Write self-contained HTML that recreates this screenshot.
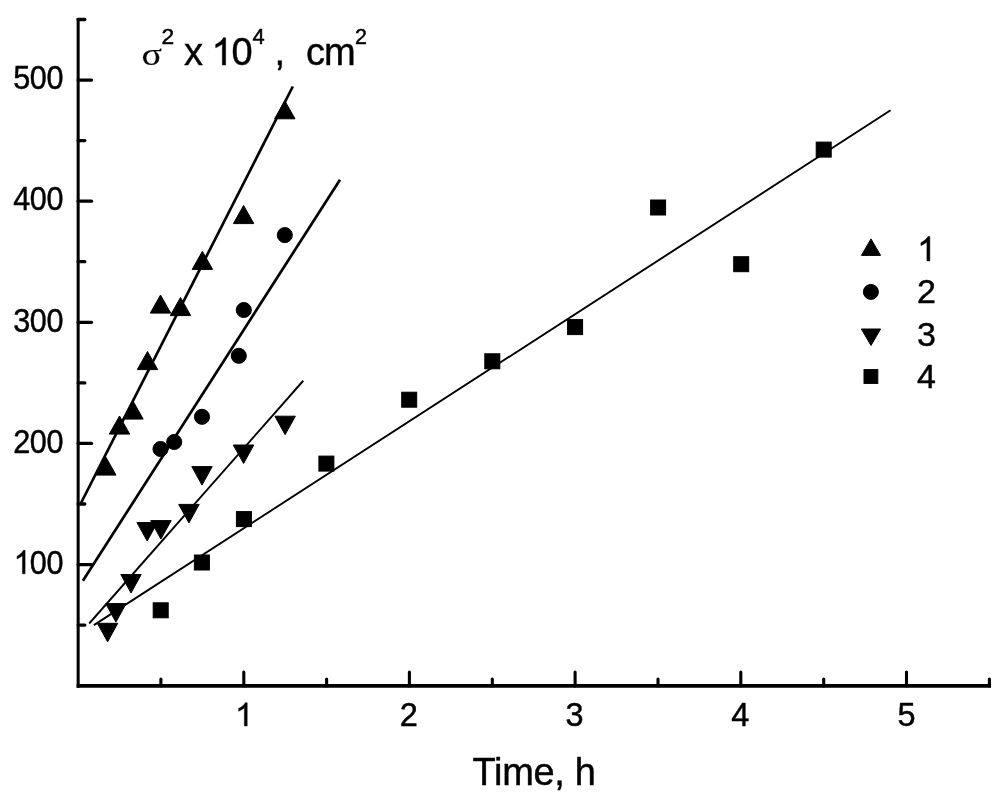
<!DOCTYPE html><html><head><meta charset="utf-8"><style>html,body{margin:0;padding:0;background:#fff}body{width:1000px;height:801px;position:relative;overflow:hidden;font-family:"Liberation Sans",sans-serif}</style></head><body><svg width="1000" height="801" viewBox="0 0 1000 801" style="position:absolute;left:0;top:0;will-change:transform;transform:translateZ(0)">
<path d="M78.15 17.9 V687.75" stroke="#000" stroke-width="3.05" fill="none"/>
<path d="M76.65 685.9 H991" stroke="#000" stroke-width="3.7" fill="none"/>
<g stroke="#000" stroke-width="3.3" fill="none" stroke-linecap="round">
<path d="M78.15 625.1 H84.8"/>
<path d="M78.15 564.6 H91.5"/>
<path d="M78.15 504.0 H84.8"/>
<path d="M78.15 443.4 H91.5"/>
<path d="M78.15 382.9 H84.8"/>
<path d="M78.15 322.3 H91.5"/>
<path d="M78.15 261.7 H84.8"/>
<path d="M78.15 201.2 H91.5"/>
<path d="M78.15 140.6 H84.8"/>
<path d="M78.15 80.1 H91.5"/>
<path d="M78.15 19.5 H84.8"/>
</g>
<g stroke="#000" stroke-width="3.1" fill="none" stroke-linecap="round">
<path d="M160.9 685.9 V679"/>
<path d="M243.8 685.9 V672"/>
<path d="M326.6 685.9 V679"/>
<path d="M409.4 685.9 V672"/>
<path d="M492.3 685.9 V679"/>
<path d="M575.1 685.9 V672"/>
<path d="M658.0 685.9 V679"/>
<path d="M740.8 685.9 V672"/>
<path d="M823.7 685.9 V679"/>
<path d="M906.5 685.9 V672"/>
<path d="M989.4 685.9 V679"/>
</g>
<text transform="translate(63.0 573.8) scale(0.94 1.0)" font-family="Liberation Sans, sans-serif" font-size="32.6" text-anchor="end" letter-spacing="-0.5" fill="#000" stroke="#000" stroke-width="0.45" stroke-linejoin="round">00</text>
<path transform="translate(13.7 573.8) scale(0.014963 -0.015918)" d="M763 0H583V1147Q518 1085 412.5 1023Q307 961 223 930V1104Q374 1175 487 1276Q600 1377 647 1472H763Z" fill="#000" stroke="#000" stroke-width="28.3" stroke-linejoin="round"/>
<text transform="translate(63.0 452.6) scale(0.94 1.0)" font-family="Liberation Sans, sans-serif" font-size="32.6" text-anchor="end" letter-spacing="-0.5" fill="#000" stroke="#000" stroke-width="0.45" stroke-linejoin="round">200</text>
<text transform="translate(63.0 331.5) scale(0.94 1.0)" font-family="Liberation Sans, sans-serif" font-size="32.6" text-anchor="end" letter-spacing="-0.5" fill="#000" stroke="#000" stroke-width="0.45" stroke-linejoin="round">300</text>
<text transform="translate(63.0 210.4) scale(0.94 1.0)" font-family="Liberation Sans, sans-serif" font-size="32.6" text-anchor="end" letter-spacing="-0.5" fill="#000" stroke="#000" stroke-width="0.45" stroke-linejoin="round">400</text>
<text transform="translate(63.0 89.3) scale(0.94 1.0)" font-family="Liberation Sans, sans-serif" font-size="32.6" text-anchor="end" letter-spacing="-0.5" fill="#000" stroke="#000" stroke-width="0.45" stroke-linejoin="round">500</text>
<path transform="translate(235.1 726) scale(0.015869 -0.015869)" d="M763 0H583V1147Q518 1085 412.5 1023Q307 961 223 930V1104Q374 1175 487 1276Q600 1377 647 1472H763Z" fill="#000" stroke="#000" stroke-width="28.4" stroke-linejoin="round"/>
<text transform="translate(408.9 726) scale(1.0 1.0)" font-family="Liberation Sans, sans-serif" font-size="32.5" text-anchor="middle" letter-spacing="0" fill="#000" stroke="#000" stroke-width="0.45" stroke-linejoin="round">2</text>
<text transform="translate(574.6 726) scale(1.0 1.0)" font-family="Liberation Sans, sans-serif" font-size="32.5" text-anchor="middle" letter-spacing="0" fill="#000" stroke="#000" stroke-width="0.45" stroke-linejoin="round">3</text>
<text transform="translate(740.3 726) scale(1.0 1.0)" font-family="Liberation Sans, sans-serif" font-size="32.5" text-anchor="middle" letter-spacing="0" fill="#000" stroke="#000" stroke-width="0.45" stroke-linejoin="round">4</text>
<text transform="translate(906.5 726) scale(1.0 1.0)" font-family="Liberation Sans, sans-serif" font-size="32.5" text-anchor="middle" letter-spacing="0" fill="#000" stroke="#000" stroke-width="0.45" stroke-linejoin="round">5</text>
<line x1="80.5" y1="504" x2="292.8" y2="86.5" stroke="#000" stroke-width="2.7"/>
<line x1="82.9" y1="580.7" x2="340" y2="179.7" stroke="#000" stroke-width="2.7"/>
<line x1="89.2" y1="623.5" x2="303.25" y2="380.75" stroke="#000" stroke-width="1.9"/>
<line x1="93.9" y1="625.1" x2="890.6" y2="110.3" stroke="#000" stroke-width="1.9"/>
<g fill="#000" stroke="#000" stroke-width="1" stroke-linejoin="round">
<polygon points="160.5,295.0 170.7,313.1 150.3,313.1"/>
<polygon points="180.5,297.5 190.7,315.6 170.3,315.6"/>
<polygon points="147.5,351.5 157.7,369.6 137.3,369.6"/>
<polygon points="133.0,401.0 143.2,419.1 122.8,419.1"/>
<polygon points="119.5,416.0 129.7,434.1 109.3,434.1"/>
<polygon points="105.8,457.0 116.0,475.1 95.5,475.1"/>
<polygon points="202.4,251.3 212.6,269.4 192.2,269.4"/>
<polygon points="243.6,205.5 253.8,223.6 233.4,223.6"/>
<polygon points="284.8,100.7 295.0,118.8 274.6,118.8"/>
<circle cx="243.8" cy="310.0" r="7.550000000000001"/>
<circle cx="238.8" cy="355.8" r="7.550000000000001"/>
<circle cx="202.0" cy="416.8" r="7.550000000000001"/>
<circle cx="174.2" cy="442.0" r="7.550000000000001"/>
<circle cx="160.5" cy="449.0" r="7.550000000000001"/>
<circle cx="284.8" cy="235.1" r="7.550000000000001"/>
<polygon points="107.6,641.8 117.8,623.3 97.3,623.3"/>
<polygon points="115.9,622.1 126.2,603.6 105.7,603.6"/>
<polygon points="131.0,593.0 141.2,574.5 120.8,574.5"/>
<polygon points="147.2,541.0 157.4,522.5 136.9,522.5"/>
<polygon points="160.9,539.1 171.2,520.6 150.7,520.6"/>
<polygon points="188.9,522.9 199.2,504.4 178.7,504.4"/>
<polygon points="202.0,485.1 212.2,466.6 191.8,466.6"/>
<polygon points="243.6,463.5 253.8,445.0 233.3,445.0"/>
<polygon points="285.1,434.7 295.4,416.2 274.9,416.2"/>
<rect x="153.2" y="602.8" width="15.0" height="15.0" stroke-linejoin="miter"/>
<rect x="194.4" y="555.0" width="15.0" height="15.0" stroke-linejoin="miter"/>
<rect x="236.4" y="511.6" width="15.0" height="15.0" stroke-linejoin="miter"/>
<rect x="318.9" y="456.1" width="15.0" height="15.0" stroke-linejoin="miter"/>
<rect x="401.7" y="392.2" width="15.0" height="15.0" stroke-linejoin="miter"/>
<rect x="484.8" y="353.8" width="15.0" height="15.0" stroke-linejoin="miter"/>
<rect x="567.6" y="319.6" width="15.0" height="15.0" stroke-linejoin="miter"/>
<rect x="650.6" y="200.0" width="15.0" height="15.0" stroke-linejoin="miter"/>
<rect x="733.7" y="256.7" width="15.0" height="15.0" stroke-linejoin="miter"/>
<rect x="816.2" y="142.1" width="15.0" height="15.0" stroke-linejoin="miter"/>
<polygon points="871.0,238.9 880.6,255.4 861.4,255.4"/>
<circle cx="870.9" cy="291.9" r="7.5"/>
<polygon points="871.0,345.5 880.6,329.0 861.4,329.0"/>
<rect x="864.0" y="369.6" width="13.8" height="13.8" stroke-linejoin="miter"/>
</g>
<path transform="translate(917.2 261) scale(0.016602 -0.016602)" d="M763 0H583V1147Q518 1085 412.5 1023Q307 961 223 930V1104Q374 1175 487 1276Q600 1377 647 1472H763Z" fill="#000" stroke="#000" stroke-width="27.1" stroke-linejoin="round"/>
<text transform="translate(917 302.9) scale(1.0 1.0)" font-family="Liberation Sans, sans-serif" font-size="34" text-anchor="start" letter-spacing="0" fill="#000" stroke="#000" stroke-width="0.45" stroke-linejoin="round">2</text>
<text transform="translate(917 345.6) scale(1.0 1.0)" font-family="Liberation Sans, sans-serif" font-size="34" text-anchor="start" letter-spacing="0" fill="#000" stroke="#000" stroke-width="0.45" stroke-linejoin="round">3</text>
<text transform="translate(917 388) scale(1.0 1.0)" font-family="Liberation Sans, sans-serif" font-size="34" text-anchor="start" letter-spacing="0" fill="#000" stroke="#000" stroke-width="0.45" stroke-linejoin="round">4</text>
<text transform="translate(141.4 65.3) scale(1.17 1.0)" font-family="Liberation Serif, serif" font-size="32.5" text-anchor="start" letter-spacing="0" fill="#000" stroke="#000" stroke-width="0.15" stroke-linejoin="round">σ</text>
<text transform="translate(161.4 43.9) scale(1.0 1.0)" font-family="Liberation Sans, sans-serif" font-size="22.8" text-anchor="start" letter-spacing="0" fill="#000" stroke="#000" stroke-width="0.45" stroke-linejoin="round">2</text>
<text transform="translate(184 65) scale(1.0 1.0)" font-family="Liberation Sans, sans-serif" font-size="38" text-anchor="start" letter-spacing="0" fill="#000" stroke="#000" stroke-width="0.45" stroke-linejoin="round">x</text>
<path transform="translate(211.5 65) scale(0.018555 -0.018555)" d="M763 0H583V1147Q518 1085 412.5 1023Q307 961 223 930V1104Q374 1175 487 1276Q600 1377 647 1472H763Z" fill="#000" stroke="#000" stroke-width="24.3" stroke-linejoin="round"/>
<text transform="translate(231.6 65) scale(1.0 1.0)" font-family="Liberation Sans, sans-serif" font-size="38" text-anchor="start" letter-spacing="0" fill="#000" stroke="#000" stroke-width="0.45" stroke-linejoin="round">0</text>
<text transform="translate(252.4 43.9) scale(0.97 1.0)" font-family="Liberation Sans, sans-serif" font-size="22.6" text-anchor="start" letter-spacing="0" fill="#000" stroke="#000" stroke-width="0.45" stroke-linejoin="round">4</text>
<text transform="translate(274.5 65) scale(1.0 1.0)" font-family="Liberation Sans, sans-serif" font-size="38" text-anchor="start" letter-spacing="0" fill="#000" stroke="#000" stroke-width="0.45" stroke-linejoin="round">,</text>
<text transform="translate(306 65) scale(1.0 1.0)" font-family="Liberation Sans, sans-serif" font-size="38" text-anchor="start" letter-spacing="-1" fill="#000" stroke="#000" stroke-width="0.45" stroke-linejoin="round">cm</text>
<text transform="translate(355 43.9) scale(0.95 1.0)" font-family="Liberation Sans, sans-serif" font-size="22.6" text-anchor="start" letter-spacing="0" fill="#000" stroke="#000" stroke-width="0.45" stroke-linejoin="round">2</text>
<text transform="translate(472.5 785) scale(1.0 1.0)" font-family="Liberation Sans, sans-serif" font-size="38" text-anchor="start" letter-spacing="-0.3" fill="#000" stroke="#000" stroke-width="0.45" stroke-linejoin="round">Time, h</text>
</svg></body></html>
